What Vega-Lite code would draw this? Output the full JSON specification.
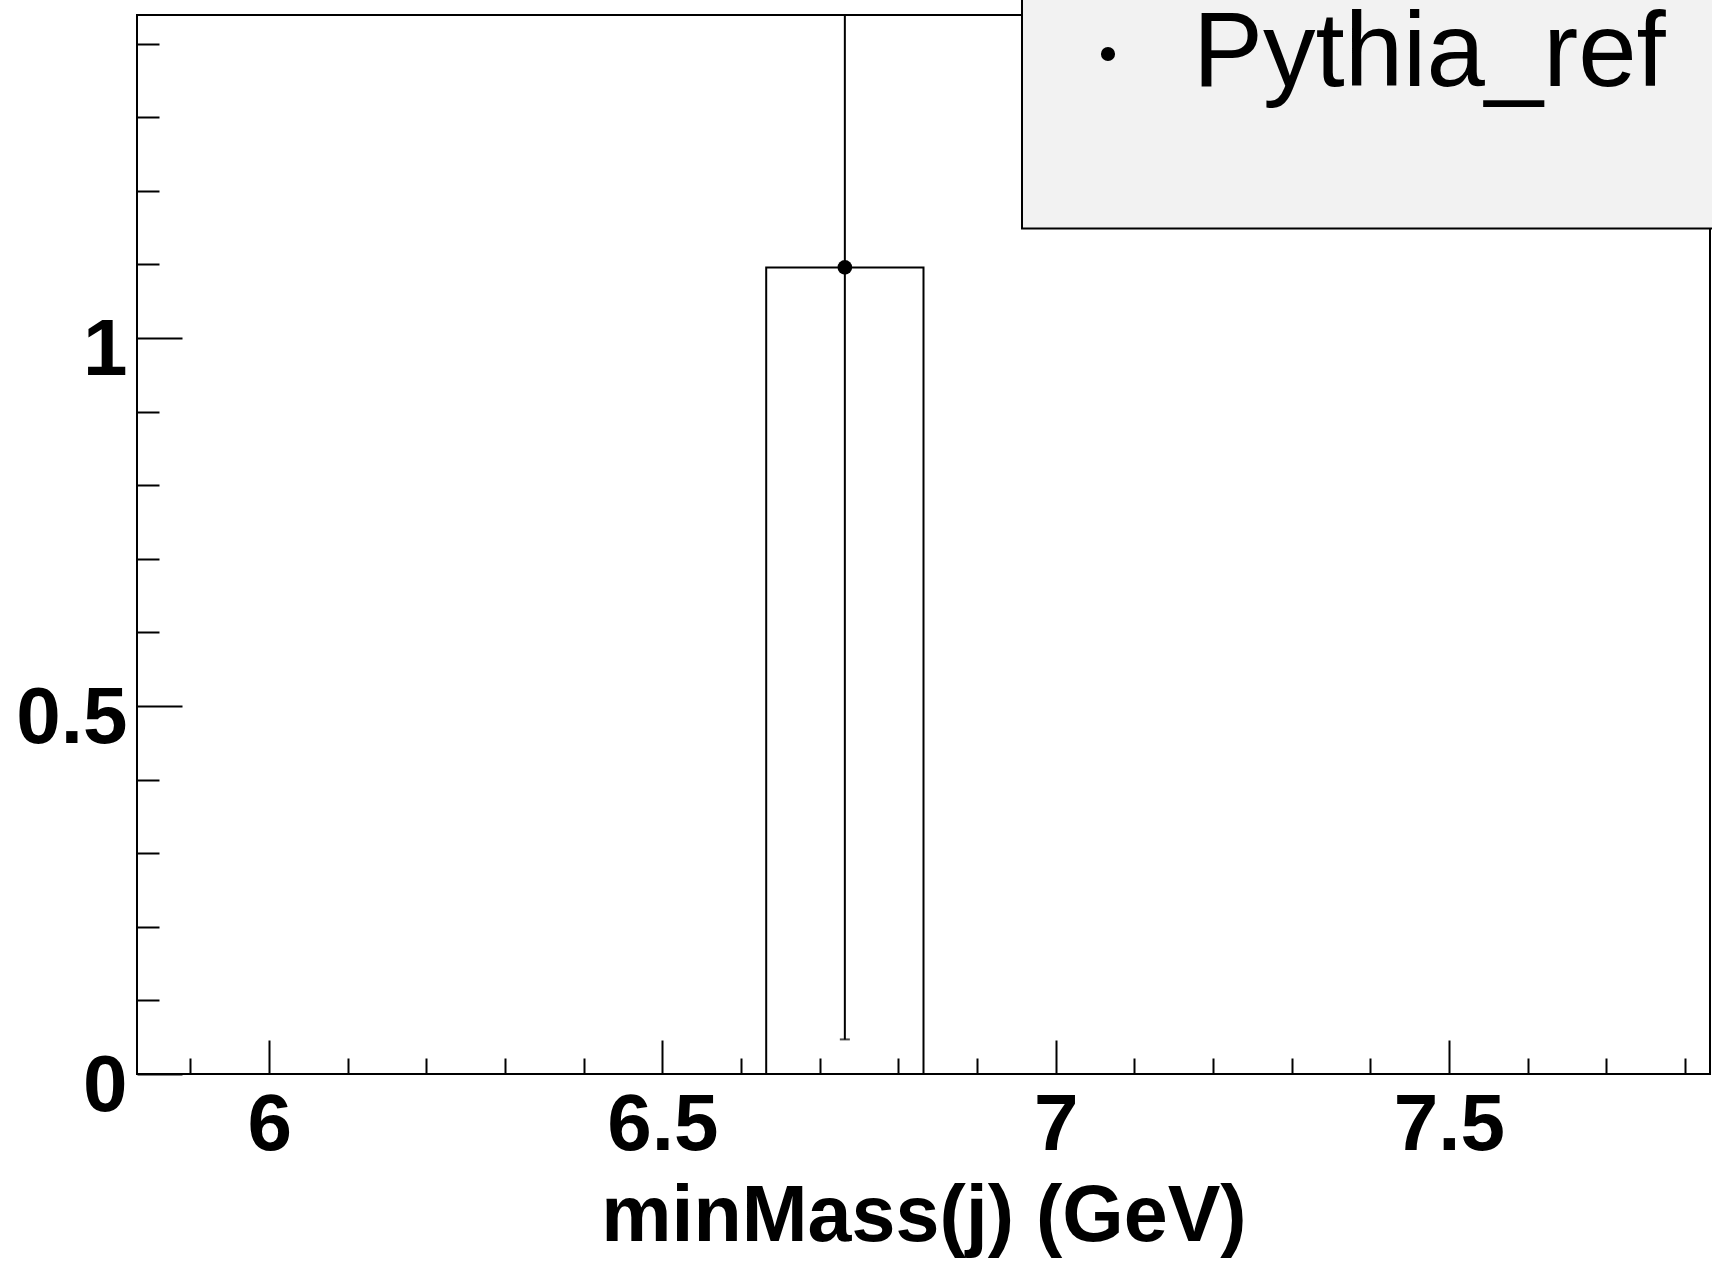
{
  "$schema": "https://vega.github.io/schema/vega-lite/v6.json",
  "width": 1573,
  "height": 1059,
  "autosize": {"type": "none"},
  "padding": {"left": 137, "top": 15, "right": 2, "bottom": 192},
  "background": "white",
  "config": {
    "view": {"stroke": "black", "strokeWidth": 2},
    "font": "Liberation Sans",
    "axis": {
      "grid": false,
      "domain": false,
      "tickColor": "black",
      "tickWidth": 2,
      "labelColor": "black",
      "labelFont": "Liberation Sans",
      "labelFontWeight": "bold",
      "labelFontSize": 80,
      "labelFlush": false,
      "labelOverlap": false
    },
    "legend": {"strokeWidth": 2}
  },
  "data": {
    "values": [
      {"x0": 5.832, "x1": 6.032, "xc": 5.932, "y": 0, "lo": 0, "hi": 0, "series": "Pythia_ref"},
      {"x0": 6.032, "x1": 6.232, "xc": 6.132, "y": 0, "lo": 0, "hi": 0, "series": "Pythia_ref"},
      {"x0": 6.232, "x1": 6.432, "xc": 6.332, "y": 0, "lo": 0, "hi": 0, "series": "Pythia_ref"},
      {"x0": 6.432, "x1": 6.632, "xc": 6.532, "y": 0, "lo": 0, "hi": 0, "series": "Pythia_ref"},
      {"x0": 6.632, "x1": 6.832, "xc": 6.732, "y": 1.096, "lo": 0.047, "hi": 2.145, "series": "Pythia_ref"},
      {"x0": 6.832, "x1": 7.032, "xc": 6.932, "y": 0, "lo": 0, "hi": 0, "series": "Pythia_ref"},
      {"x0": 7.032, "x1": 7.232, "xc": 7.132, "y": 0, "lo": 0, "hi": 0, "series": "Pythia_ref"},
      {"x0": 7.232, "x1": 7.432, "xc": 7.332, "y": 0, "lo": 0, "hi": 0, "series": "Pythia_ref"},
      {"x0": 7.432, "x1": 7.632, "xc": 7.532, "y": 0, "lo": 0, "hi": 0, "series": "Pythia_ref"},
      {"x0": 7.632, "x1": 7.832, "xc": 7.732, "y": 0, "lo": 0, "hi": 0, "series": "Pythia_ref"}
    ]
  },
  "resolve": {"axis": {"x": "independent", "y": "independent"}},
  "layer": [
    {
      "mark": {"type": "rect", "fillOpacity": 0, "fill": "white", "stroke": "black", "strokeWidth": 2},
      "encoding": {
        "x": {
          "field": "x0", "type": "quantitative",
          "scale": {"domain": [5.832, 7.832], "nice": false, "zero": false},
          "axis": {
            "orient": "bottom",
            "values": [6, 6.5, 7, 7.5],
            "format": "~g",
            "tickSize": -34,
            "labelPadding": 109,
            "labelBaseline": "alphabetic",
            "title": "minMass(j) (GeV)",
            "titleFont": "Liberation Sans",
            "titleFontSize": 79,
            "titleFontWeight": "bold",
            "titleColor": "black",
            "titleBaseline": "alphabetic",
            "titleY": 166,
            "titleAnchor": "middle"
          }
        },
        "x2": {"field": "x1"},
        "y": {
          "field": "y", "type": "quantitative",
          "scale": {"domain": [0, 1.439], "nice": false, "zero": false},
          "axis": {
            "orient": "left",
            "values": [0, 0.5, 1],
            "format": "~g",
            "tickSize": -45,
            "labelPadding": 55,
            "labelOffset": 36,
            "labelBaseline": "alphabetic",
            "title": null
          }
        },
        "y2": {"datum": 0}
      }
    },
    {
      "transform": [{"filter": "datum.y > 0"}],
      "mark": {"type": "rule", "stroke": "black", "strokeWidth": 2, "clip": true},
      "encoding": {
        "x": {
          "field": "xc", "type": "quantitative",
          "axis": {
            "orient": "bottom",
            "values": [5.9, 6.1, 6.2, 6.3, 6.4, 6.6, 6.7, 6.8, 6.9, 7.1, 7.2, 7.3, 7.4, 7.6, 7.7, 7.8],
            "tickSize": -16,
            "labels": false,
            "title": null
          }
        },
        "y": {
          "field": "lo", "type": "quantitative",
          "axis": {
            "orient": "left",
            "values": [0.1, 0.2, 0.3, 0.4, 0.6, 0.7, 0.8, 0.9, 1.1, 1.2, 1.3, 1.4],
            "tickSize": -22,
            "labels": false,
            "title": null
          }
        },
        "y2": {"field": "hi"}
      }
    },
    {
      "transform": [{"filter": "datum.y > 0"}],
      "mark": {"type": "tick", "orient": "horizontal", "color": "black", "size": 10, "thickness": 2, "clip": true},
      "encoding": {
        "x": {"field": "xc", "type": "quantitative", "axis": null},
        "y": {"field": "lo", "type": "quantitative", "axis": null}
      }
    },
    {
      "transform": [{"filter": "datum.y > 0"}],
      "mark": {"type": "point", "filled": true, "size": 215, "opacity": 1, "shape": "circle"},
      "encoding": {
        "x": {"field": "xc", "type": "quantitative", "axis": null},
        "y": {"field": "y", "type": "quantitative", "axis": null},
        "color": {
          "field": "series", "type": "nominal",
          "scale": {"range": ["black"]},
          "legend": {
            "title": ".",
            "titleOrient": "bottom",
            "titleFontSize": 30,
            "titlePadding": 12.5,
            "titleColor": "#f2f2f2",
            "orient": "none",
            "legendX": 885,
            "legendY": -91.5,
            "fillColor": "#f2f2f2",
            "strokeColor": "black",
            "padding": 78,
            "labelFont": "Liberation Sans",
            "labelFontSize": 105,
            "labelColor": "black",
            "labelLimit": 0,
            "symbolType": "circle",
            "symbolSize": 200,
            "symbolOffset": -44.5,
            "labelOffset": 32.5,
            "symbolStrokeWidth": 0
          }
        }
      }
    }
  ]
}
